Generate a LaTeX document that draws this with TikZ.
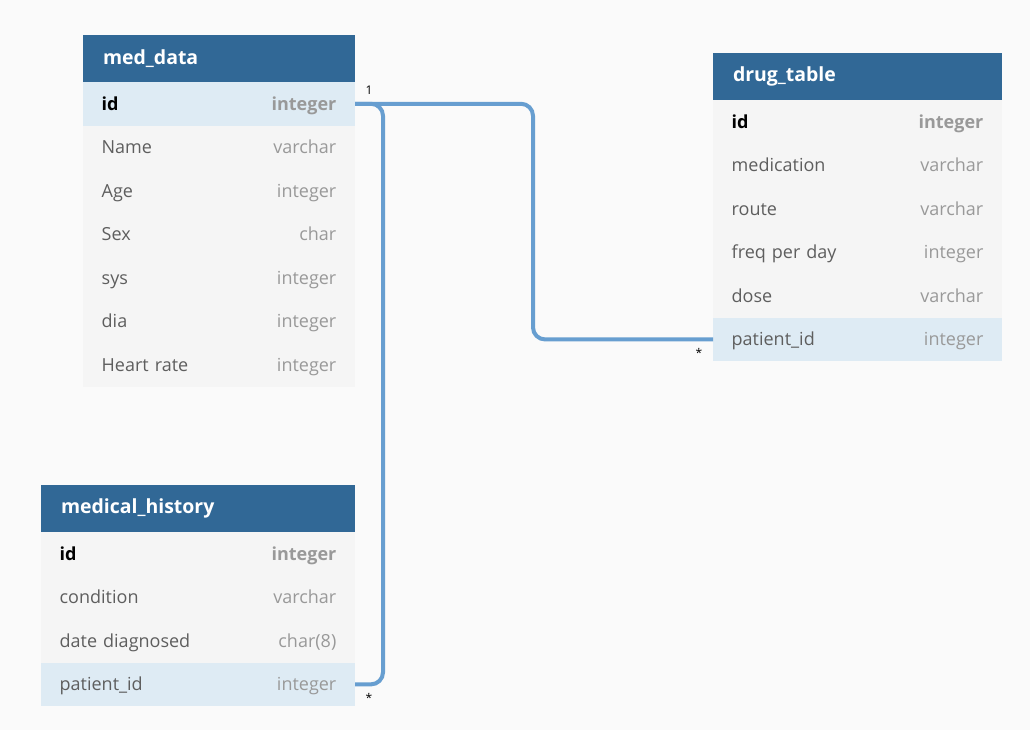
\documentclass[tikz,border=0pt]{standalone}
\usepackage{fontspec}
\setmainfont{Open Sans}
\usepackage{tikz}
\usetikzlibrary{positioning}
\definecolor{pagebg}{HTML}{FAFAFA}
\definecolor{headblue}{HTML}{316896}
\definecolor{rowgray}{HTML}{F5F5F5}
\definecolor{rowblue}{HTML}{DEEBF4}
\definecolor{namegray}{HTML}{5E5E5E}
\definecolor{typegray}{HTML}{999999}
\definecolor{relblue}{HTML}{679ED0}
\tikzset{tblhead/.style={rectangle,fill=headblue,text=white,anchor=north west,
    font=\bfseries\fontsize{14.6pt}{17pt}\selectfont,outer sep=0pt,
    minimum height=35.25pt,inner xsep=15pt,inner ysep=0pt,text width=#1}}
\tikzset{tblrow/.style={rectangle,fill=rowgray,below=0pt of #1,outer sep=0pt,
    font=\fontsize{13.5pt}{16pt}\selectfont,text height=11pt,text depth=1.5pt,
    minimum height=32.65pt,inner xsep=14pt,inner ysep=0pt}}
\tikzset{keyrow/.style={fill=rowblue}}
\tikzset{rel/.style={draw=relblue,line width=3pt,rounded corners=9pt}}
\tikzset{card/.style={font=\fontsize{9pt}{10pt}\selectfont,inner sep=0pt}}
\newcommand{\cname}[1]{\textcolor{namegray}{#1}}
\newcommand{\ctype}[1]{\textcolor{typegray}{#1}}
\newcommand{\ckey}[2]{\textbf{#1}\hfill\textbf{\ctype{#2}}}

\begin{document}
\begin{tikzpicture}[x=0.75pt,y=-0.75pt]
    \useasboundingbox[fill=pagebg] (0,0) rectangle (1030,730);

    % med_data
    \node[tblhead=174pt] (md) at (83,35) {med\_data};
    \node[tblrow=md,keyrow,text width=176pt] (md-id) {\ckey{id}{integer}};
    \node[tblrow=md-id,text width=176pt] (md-name) {\cname{Name}\hfill\ctype{varchar}};
    \node[tblrow=md-name,text width=176pt] (md-age) {\cname{Age}\hfill\ctype{integer}};
    \node[tblrow=md-age,text width=176pt] (md-sex) {\cname{Sex}\hfill\ctype{char}};
    \node[tblrow=md-sex,text width=176pt] (md-sys) {\cname{sys}\hfill\ctype{integer}};
    \node[tblrow=md-sys,text width=176pt] (md-dia) {\cname{dia}\hfill\ctype{integer}};
    \node[tblrow=md-dia,text width=176pt] (md-hr) {\cname{Heart rate}\hfill\ctype{integer}};

    % drug_table
    \node[tblhead=186.75pt] (dt) at (713,53) {drug\_table};
    \node[tblrow=dt,text width=188.75pt] (dt-id) {\ckey{id}{integer}};
    \node[tblrow=dt-id,text width=188.75pt] (dt-med) {\cname{medication}\hfill\ctype{varchar}};
    \node[tblrow=dt-med,text width=188.75pt] (dt-route) {\cname{route}\hfill\ctype{varchar}};
    \node[tblrow=dt-route,text width=188.75pt] (dt-freq) {\cname{freq per day}\hfill\ctype{integer}};
    \node[tblrow=dt-freq,text width=188.75pt] (dt-dose) {\cname{dose}\hfill\ctype{varchar}};
    \node[tblrow=dt-dose,keyrow,text width=188.75pt] (dt-pid) {\cname{patient\_id}\hfill\ctype{integer}};

    % medical_history
    \node[tblhead=205.5pt] (mh) at (41,485) {medical\_history};
    \node[tblrow=mh,text width=207.5pt] (mh-id) {\ckey{id}{integer}};
    \node[tblrow=mh-id,text width=207.5pt] (mh-cond) {\cname{condition}\hfill\ctype{varchar}};
    \node[tblrow=mh-cond,text width=207.5pt] (mh-date) {\cname{date diagnosed}\hfill\ctype{char(8)}};
    \node[tblrow=mh-date,keyrow,text width=207.5pt] (mh-pid) {\cname{patient\_id}\hfill\ctype{integer}};

    % relations
    \draw[rel] (md-id.east) -- ++(28,0) |- (mh-pid.east);
    \draw[rel] (md-id.east) -- ++(178,0) |- (dt-pid.west);
    \node[card] (one) at (369,90) {1};
    \node[card] (many-mh) at (369,698) {*};
    \node[card] (many-dt) at (699,353) {*};
\end{tikzpicture}
\end{document}
